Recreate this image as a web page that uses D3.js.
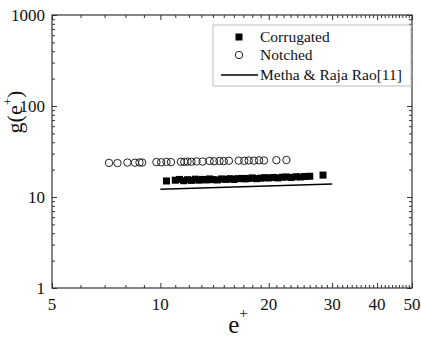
<!DOCTYPE html>
<html>
<head>
<meta charset="utf-8">
<script src="https://cdn.jsdelivr.net/npm/d3@7"></script>
<style>
  body { margin: 0; background: #fff; }
  svg { display: block; font-family: "Liberation Serif", "Times New Roman", serif; }
</style>
</head>
<body>
<svg></svg>
<script>
// notched series (open circles)
var notchedX = [7.2, 7.6, 8.1, 8.5, 8.75, 8.9, 9.75, 10.05, 10.4, 10.7, 11.4, 11.65, 11.9, 12.2, 12.6,
    13.1, 13.7, 14.1, 14.6, 15.0, 15.5, 16.5, 17.1, 17.6, 18.2, 18.8, 19.4, 21.0, 22.4];
var notchedY = [23.7, 23.6, 23.9, 23.8, 24.0, 23.9, 24.2, 24.1, 24.3, 24.2, 24.4, 24.3, 24.5, 24.4, 24.6,
    24.5, 24.9, 24.7, 24.9, 24.8, 25.0, 25.1, 25.0, 25.2, 25.1, 25.3, 25.2, 25.4, 25.5];

// corrugated series (filled squares)
var corrX = [10.4, 11.0, 11.3, 11.6, 11.9, 12.2, 12.5, 12.8, 13.1, 13.4, 13.7, 14.0, 14.4, 14.8, 15.2,
    15.6, 16.0, 16.4, 16.8, 17.2, 17.6, 18.0, 18.5, 19.0, 19.5, 20.0, 20.6, 21.2, 21.8, 22.4, 23.1,
    23.8, 24.5, 25.2, 26.0, 28.3];
var corrY = [15.0, 15.3, 15.6, 15.1, 15.5, 15.2, 15.7, 15.3, 15.6, 15.4, 15.8, 15.5, 15.4, 15.8, 15.6,
    15.9, 15.6, 15.9, 16.0, 15.8, 16.0, 16.2, 15.9, 16.1, 16.3, 16.2, 16.4, 16.2, 16.5, 16.6, 16.4,
    16.7, 16.6, 16.8, 16.9, 17.4];

// Metha & Raja Rao correlation
var mehtaX = [10, 30];
var mehtaY = [12.15, 13.9];

var xLabels = [5, 10, 20, 30, 40, 50];
var yLabels = [1, 10, 100, 1000];
var legendNames = ["Corrugated", "Notched", "Metha & Raja Rao[11]"];

var W = 421, H = 339;
var margin = { top: 15, right: 9, bottom: 51, left: 52 },
    width = W - margin.left - margin.right,
    height = H - margin.top - margin.bottom;

var svg = d3.select("svg")
    .attr("width", W)
    .attr("height", H)
    .append("g")
    .attr("transform", "translate(" + margin.left + "," + margin.top + ")");

var x = d3.scaleLog().domain([5, 50]).range([0, width]);
var y = d3.scaleLog().domain([1, 1000]).range([height, 0]);

// minor tick values
var xMinor = d3.range(6, 10).concat(d3.range(11, 50)).filter(function (v) { return xLabels.indexOf(v) < 0; });
var yMinor = [];
[1, 10, 100].forEach(function (d) { for (var k = 2; k <= 9; k++) yMinor.push(d * k); });

var axisColor = "#333";

function tickAxis(axisFn, scale, vals, len) {
    return axisFn(scale).tickValues(vals).tickSize(len).tickFormat("");
}

// ticks point inward on all four sides
svg.append("g").attr("transform", "translate(0," + height + ")").call(tickAxis(d3.axisTop, x, xMinor, 3));
svg.append("g").attr("transform", "translate(0," + height + ")").call(tickAxis(d3.axisTop, x, xLabels, 5));
svg.append("g").call(tickAxis(d3.axisBottom, x, xMinor, 3));
svg.append("g").call(tickAxis(d3.axisBottom, x, xLabels, 5));
svg.append("g").call(tickAxis(d3.axisRight, y, yMinor, 3));
svg.append("g").call(tickAxis(d3.axisRight, y, yLabels, 5));
svg.append("g").attr("transform", "translate(" + width + ",0)").call(tickAxis(d3.axisLeft, y, yMinor, 3));
svg.append("g").attr("transform", "translate(" + width + ",0)").call(tickAxis(d3.axisLeft, y, yLabels, 5));

svg.selectAll(".domain").remove();
svg.selectAll(".tick line").attr("stroke", axisColor).attr("stroke-width", 1);

// frame
svg.append("rect")
    .attr("width", width).attr("height", height)
    .attr("fill", "none").attr("stroke", axisColor).attr("stroke-width", 1.2);

// tick labels
svg.selectAll(".xlab")
    .data(xLabels)
    .enter()
    .append("text")
    .attr("x", function (d) { return x(d); })
    .attr("y", height + 22)
    .attr("text-anchor", "middle")
    .attr("font-size", 17)
    .attr("fill", "#111")
    .text(function (d) { return d; });

svg.selectAll(".ylab")
    .data(yLabels)
    .enter()
    .append("text")
    .attr("x", -7)
    .attr("y", function (d) { return y(d) + 6; })
    .attr("text-anchor", "end")
    .attr("font-size", 17)
    .attr("fill", "#111")
    .text(function (d) { return d; });

// axis titles
var xt = svg.append("text")
    .attr("x", 186)
    .attr("y", height + 45)
    .attr("text-anchor", "middle")
    .attr("font-size", 25)
    .attr("fill", "#111");
xt.append("tspan").text("e");
xt.append("tspan").attr("font-size", 15).attr("dy", -15).text("+");

var yt = svg.append("text")
    .attr("transform", "translate(-30," + 97 + ") rotate(-90)")
    .attr("text-anchor", "middle")
    .attr("font-size", 22)
    .attr("fill", "#111");
yt.append("tspan").text("g(e");
yt.append("tspan").attr("font-size", 13).attr("dy", -10).text("+");
yt.append("tspan").attr("dy", 10).text(")");

// Metha line
var line = d3.line()
    .x(function (d) { return x(d[0]); })
    .y(function (d) { return y(d[1]); });

svg.append("path")
    .datum(d3.zip(mehtaX, mehtaY))
    .attr("d", line)
    .attr("fill", "none")
    .attr("stroke", "#000")
    .attr("stroke-width", 1.5);

// squares
var sq = 7;
svg.selectAll(".corr")
    .data(d3.zip(corrX, corrY))
    .enter()
    .append("rect")
    .attr("x", function (d) { return x(d[0]) - sq / 2; })
    .attr("y", function (d) { return y(d[1]) - sq / 2; })
    .attr("width", sq)
    .attr("height", sq)
    .attr("fill", "#000");

// circles
svg.selectAll(".notch")
    .data(d3.zip(notchedX, notchedY))
    .enter()
    .append("circle")
    .attr("cx", function (d) { return x(d[0]); })
    .attr("cy", function (d) { return y(d[1]); })
    .attr("r", 3.7)
    .attr("fill", "none")
    .attr("stroke", "#222")
    .attr("stroke-width", 1);

// legend
var lg = svg.append("g").attr("transform", "translate(161,10)");
lg.append("rect")
    .attr("width", 198).attr("height", 61)
    .attr("fill", "#fff")
    .attr("stroke", "#bbb")
    .attr("stroke-width", 1);

var rowY = [12, 30, 50];
lg.append("rect").attr("x", 26 - 3.5).attr("y", rowY[0] - 3.5).attr("width", 7).attr("height", 7).attr("fill", "#000");
lg.append("circle").attr("cx", 26).attr("cy", rowY[1]).attr("r", 3.7).attr("fill", "none").attr("stroke", "#222").attr("stroke-width", 1);
lg.append("line").attr("x1", 8).attr("x2", 45).attr("y1", rowY[2]).attr("y2", rowY[2]).attr("stroke", "#000").attr("stroke-width", 1.5);

lg.selectAll(".ltext")
    .data(legendNames)
    .enter()
    .append("text")
    .attr("x", 47)
    .attr("y", function (d, i) { return rowY[i] + 5; })
    .attr("font-size", 15.5)
    .attr("fill", "#111")
    .text(function (d) { return d; });
</script>
</body>
</html>
